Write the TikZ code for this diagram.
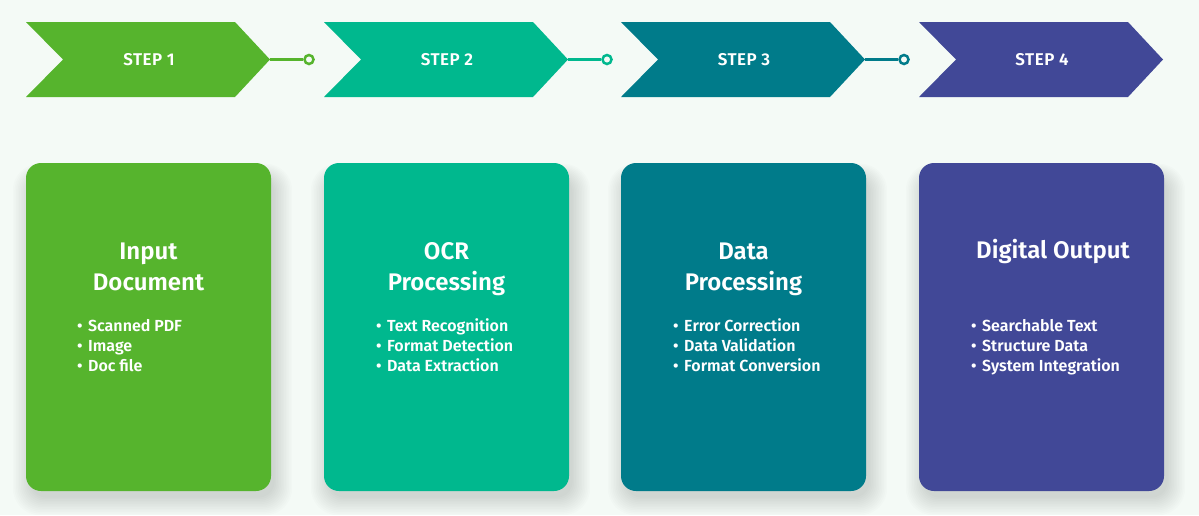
\documentclass[tikz,border=0pt]{standalone}
\usepackage{fontspec}
\setmainfont{Fira Sans}
\newfontfamily\semib{Fira Sans SemiBold}
\definecolor{bg}{HTML}{F4FAF6}
\definecolor{cA}{HTML}{56B42D}
\definecolor{cB}{HTML}{00B88E}
\definecolor{cC}{HTML}{007B8A}
\definecolor{cD}{HTML}{414897}
\tikzset{
  chev/.style={fill=#1, draw=none},
  steplabel/.style={text=white, font=\fontsize{17}{20}\selectfont\semib\addfontfeature{LetterSpace=3}, inner sep=0pt},
  dot/.style={circle, draw=#1, fill=bg, line width=2.5pt, minimum size=9pt, inner sep=0pt},
  link/.style={draw=#1, line width=2.5pt},
  card/.style={fill=#1, draw=none, rounded corners=15pt, minimum width=245pt, minimum height=328pt, inner sep=0pt},
  shade layer/.style={fill=black, fill opacity=0.012, draw=none},
  title/.style={text=white, font=\fontsize{24}{31}\selectfont\semib, align=center, inner sep=0pt, anchor=base},
  items/.style={text=white, font=\fontsize{16}{20}\selectfont\semib, align=left, inner sep=0pt, anchor=base west},
}
\newcommand{\itm}[1]{\makebox[11pt][l]{•}#1}
\begin{document}
\begin{tikzpicture}[x=1pt,y=-1pt]
\fill[bg] (0,0) rectangle (1199,515);
\useasboundingbox (0,0) rectangle (1199,515);
% chevrons
\foreach \x/\c/\n in {26/cA/1, 324/cB/2, 621/cC/3, 919/cD/4}{
  \fill[chev=\c] (\x,22) -- (\x+209,22) -- (\x+244,59.5) -- (\x+209,97) -- (\x,97) -- (\x+37,59.5) -- cycle;
  \node[steplabel] (s\n) at (\x+123,59.5) {STEP \n};
  \coordinate (t\n) at (\x+244,59.5);
}
\foreach \x/\c/\n in {26/cA/1, 324/cB/2, 621/cC/3}{
  \node[dot=\c] (d\n) at (\x+283,59.5) {};
  \draw[link=\c] (t\n) -- (d\n);
}
% card shadows
\foreach \x in {26,324,621,919}{
  \foreach \k in {1,...,12}{
    \fill[shade layer, rounded corners=15pt+\k pt] (\x+6-1.6*\k,178-1.2*\k) rectangle (\x+245+2+1.6*\k,496+1.6*\k);
  }
}
% cards
\node[card=cA] (k1) at (148.5,327) {};
\node[card=cB] (k2) at (446.5,327) {};
\node[card=cC] (k3) at (743.5,327) {};
\node[card=cD] (k4) at (1041.5,327) {};
\node[title] (h1) at (148.5,290) {Input\\Document};
\node[title] (h2) at (446.5,290) {OCR\\Processing};
\node[title] (h3) at (743.5,290) {Data\\Processing};
\node[title] (h4) at (1053,258) {Digital Output};
\node[items] (b1) at (77,371) {\itm{Scanned PDF}\\\itm{Image}\\\itm{Doc file}};
\node[items] (b2) at (376,371) {\itm{Text Recognition}\\\itm{Format Detection}\\\itm{Data Extraction}};
\node[items] (b3) at (673,371) {\itm{Error Correction}\\\itm{Data Validation}\\\itm{Format Conversion}};
\node[items] (b4) at (971,371) {\itm{Searchable Text}\\\itm{Structure Data}\\\itm{System Integration}};
\end{tikzpicture}
\end{document}
